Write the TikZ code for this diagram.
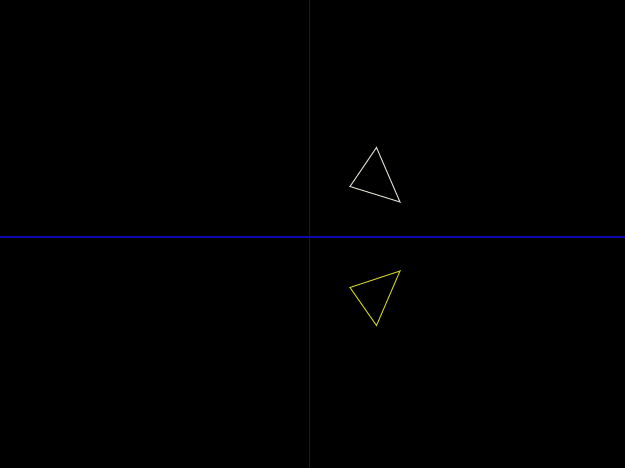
\documentclass[tikz,border=0pt]{standalone}
\begin{document}
\begin{tikzpicture}[
x=1pt,y=-1pt,
axis/.style={draw={rgb,255:red,10;green,10;blue,170},line width=1.2pt},
orig/.style={draw={rgb,255:red,215;green,215;blue,205},line width=1pt},
image/.style={draw={rgb,255:red,200;green,200;blue,40},line width=1pt}
]

\fill[black] (0,0) rectangle (625,468);
\useasboundingbox (0,0) rectangle (625,468);

\coordinate (l) at (0,237);
\coordinate (r) at (625,237);
\coordinate (t) at (309.5,0);
\coordinate (b) at (309.5,468);

\draw[axis] (l) -- (r);
\draw[axis,line width=0.8pt] (t) -- (b);

\coordinate (a) at (376.5,147.5);
\coordinate (b1) at (350,186.5);
\coordinate (c) at (400,202);

\coordinate (a') at (376.5,325.5);
\coordinate (b1') at (350,287.5);
\coordinate (c') at (400,271);

\draw[orig] (a) -- (b1) -- (c) -- cycle;
\draw[image] (a') -- (b1') -- (c') -- cycle;

\end{tikzpicture}
\end{document}
